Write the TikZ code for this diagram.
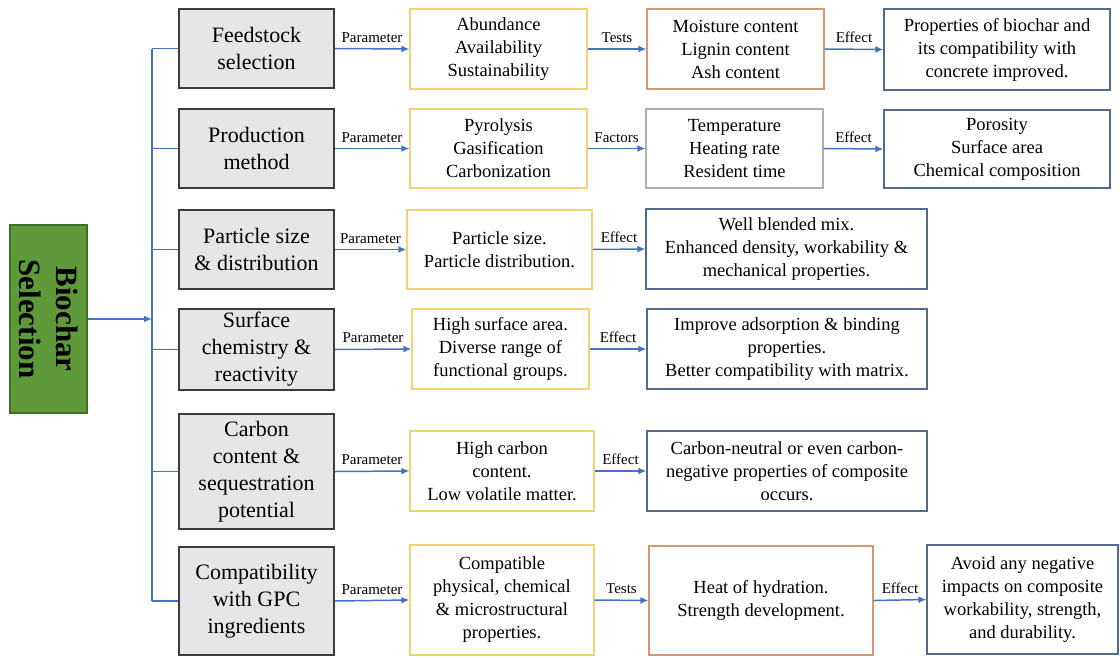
\documentclass[tikz,border=0pt]{standalone}
\usepackage{fontspec}
\setmainfont{Liberation Serif}
\usetikzlibrary{arrows.meta}

\definecolor{linkblue}{RGB}{68,114,196}
\definecolor{headfill}{RGB}{231,230,231}
\definecolor{headline}{RGB}{60,60,64}
\definecolor{paramline}{RGB}{242,210,115}
\definecolor{testline}{RGB}{212,152,118}
\definecolor{factline}{RGB}{175,175,178}
\definecolor{effectline}{RGB}{82,106,140}
\definecolor{rootfill}{RGB}{94,154,58}
\definecolor{rootline}{RGB}{62,112,40}

\begin{document}
\begin{tikzpicture}[x=1pt,y=-1pt,
  box/.style={draw, line width=1.3pt, inner sep=0pt, align=center, fill=white,
    font={\fontsize{18.5}{23}\selectfont}},
  headbox/.style={box, draw=headline, fill=headfill,
    font={\fontsize{22}{27}\selectfont}},
  parambox/.style={box, draw=paramline},
  testbox/.style={box, draw=testline},
  factbox/.style={box, draw=factline},
  effectbox/.style={box, draw=effectline},
  rootbox/.style={draw=rootline, fill=rootfill, line width=1.3pt, inner sep=0pt},
  bus/.style={draw=linkblue, line width=1.5pt},
  link/.style={draw=linkblue, line width=1.5pt, -{Latex[length=8pt,width=7pt]}},
  lbl/.style={above=4.5pt, inner sep=1pt, text=black,
    font={\fontsize{15}{17}\selectfont}}
]
\useasboundingbox (0,0) rectangle (1120,657);

% root
\node[rootbox, minimum width=77pt, minimum height=188pt] (root) at (48.5,319) {};
\node[rotate=-90, align=center, font={\fontsize{31}{37}\selectfont\bfseries}]
  (roottext) at (root.center) {Biochar\\Selection};

% first column: criteria
\node[headbox, minimum width=155pt, minimum height=79pt]  (g1) at (256.5,48.5)  {Feedstock\\selection};
\node[headbox, minimum width=155pt, minimum height=79pt]  (g2) at (256.5,148.5) {Production\\method};
\node[headbox, minimum width=155pt, minimum height=79pt]  (g3) at (256.5,249.5) {Particle size\\\& distribution};
\node[headbox, minimum width=155pt, minimum height=81pt]  (g4) at (256.5,349.5) {Surface\\chemistry \&\\reactivity};
\node[headbox, minimum width=155pt, minimum height=115pt] (g5) at (256.5,471.5) {Carbon\\content \&\\sequestration\\potential};
\node[headbox, minimum width=155pt, minimum height=108pt] (g6) at (256.5,601)   {Compatibility\\with GPC\\ingredients};

% parameters
\node[parambox, minimum width=177pt, minimum height=80pt]  (p1) at (498.5,49)  {Abundance\\Availability\\Sustainability};
\node[parambox, minimum width=177pt, minimum height=79pt]  (p2) at (498.5,148.5) {Pyrolysis\\Gasification\\Carbonization};
\node[parambox, minimum width=185pt, minimum height=79pt]  (p3) at (499.5,249.5) {Particle size.\\Particle distribution.};
\node[parambox, minimum width=177pt, minimum height=80pt]  (p4) at (500.5,349)  {High surface area.\\Diverse range of\\functional groups.};
\node[parambox, minimum width=184pt, minimum height=80pt]  (p5) at (502,471)    {High carbon\\content.\\Low volatile matter.};
\node[parambox, minimum width=184pt, minimum height=110pt] (p6) at (502,600)    {Compatible\\physical, chemical\\\& microstructural\\properties.};

% tests and factors
\node[testbox, minimum width=177pt, minimum height=80pt]  (t1) at (735.5,49)   {Moisture content\\Lignin content\\Ash content};
\node[factbox, minimum width=177pt, minimum height=79pt]  (t2) at (734.5,148.5) {Temperature\\Heating rate\\Resident time};
\node[testbox, minimum width=224pt, minimum height=109pt] (t6) at (761,600.5)  {Heat of hydration.\\Strength development.};

% effects
\node[effectbox, minimum width=226pt, minimum height=81pt]  (e1) at (997,49.5)   {Properties of biochar and\\its compatibility with\\concrete improved.};
\node[effectbox, minimum width=226pt, minimum height=78pt]  (e2) at (997,149)    {Porosity\\Surface area\\Chemical composition};
\node[effectbox, minimum width=281pt, minimum height=80pt]  (e3) at (786.5,249)  {Well blended mix.\\Enhanced density, workability \&\\mechanical properties.};
\node[effectbox, minimum width=280pt, minimum height=80pt]  (e4) at (787,349)    {Improve adsorption \& binding\\properties.\\Better compatibility with matrix.};
\node[effectbox, minimum width=280pt, minimum height=80pt]  (e5) at (787,471)    {Carbon-neutral or even carbon-\\negative properties of composite\\occurs.};
\node[effectbox, minimum width=191pt, minimum height=109pt] (e6) at (1022.5,599.5) {Avoid any negative\\impacts on composite\\workability, strength,\\and durability.};

% distribution bus
\coordinate (busTop) at (152,48.5);
\coordinate (busBot) at (152,601);
\draw[bus] (busTop) -- (busBot);
\foreach \g in {g1,g2,g3,g4,g5,g6}
  \draw[bus] (\g.west) -- (\g.west -| busTop);
\draw[link] (root.east) -- (root.east -| busTop);

% parameter links
\foreach \g/\p in {g1/p1,g2/p2,g3/p3,g4/p4,g5/p5,g6/p6}
  \draw[link] (\g.east) -- node[lbl]{Parameter} (\p.west);

% second stage links
\draw[link] (p1.east) -- node[lbl]{Tests}   (t1.west);
\draw[link] (p2.east) -- node[lbl]{Factors} (t2.west);
\draw[link] (p3.east) -- node[lbl]{Effect}  (e3.west);
\draw[link] (p4.east) -- node[lbl]{Effect}  (e4.west);
\draw[link] (p5.east) -- node[lbl]{Effect}  (e5.west);
\draw[link] (p6.east) -- node[lbl]{Tests}   (t6.west);

% effect links
\draw[link] (t1.east) -- node[lbl]{Effect} (e1.west);
\draw[link] (t2.east) -- node[lbl]{Effect} (e2.west);
\draw[link] (t6.east) -- node[lbl]{Effect} (e6.west);
\end{tikzpicture}
\end{document}
